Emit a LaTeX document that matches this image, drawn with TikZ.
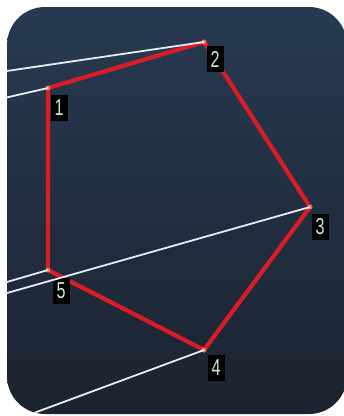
\documentclass[tikz,border=0pt]{standalone}
\usepackage{fontspec}
\usepackage{graphicx}
\newfontfamily\lblfont{Liberation Sans}
\definecolor{bgtop}{RGB}{39,58,82}
\definecolor{bgbot}{RGB}{28,35,47}
\definecolor{edgered}{RGB}{218,28,38}
\definecolor{wire}{RGB}{232,236,242}
\definecolor{lbltext}{RGB}{195,238,218}
\definecolor{dotcol}{RGB}{228,118,100}
\begin{document}
\begin{tikzpicture}[x=1pt,y=1pt,
  redline/.style={draw=edgered, line width=4.2pt, line cap=round},
  wline/.style={draw=wire, line width=1.8pt},
  lbl/.style={fill=black, text=lbltext, inner sep=0pt, minimum width=17pt, minimum height=26pt,
    font=\lblfont\fontsize{23}{23}\selectfont},
  vdot/.style={circle, fill=dotcol, inner sep=0pt, minimum size=5pt}]
\useasboundingbox (0,-416) rectangle (344,0);
\fill[white] (0,-416) rectangle (344,0);
\shade[top color=bgtop, bottom color=bgbot, rounded corners=38pt] (7,-414) rectangle (347,-7);

% vertices
\coordinate (v1) at (48,-88);
\coordinate (v2) at (204,-42);
\coordinate (v3) at (310,-207);
\coordinate (v4) at (204,-350);
\coordinate (v5) at (48,-270);

% free ends of the wires
\coordinate (w1) at (0,-99);
\coordinate (w2) at (0,-72);
\coordinate (w3) at (0,-295);
\coordinate (w4) at (15,-420);
\coordinate (w5) at (0,-284);

\begin{scope}
\clip[rounded corners=38pt] (7,-414) rectangle (347,-7);
\draw[redline] (v1) -- (v2) -- (v3) -- (v4) -- (v5) -- cycle;
\node[vdot] (d1) at (v1) {};
\node[vdot] (d2) at (v2) {};
\node[vdot] (d3) at (v3) {};
\node[vdot] (d4) at (v4) {};
\node[vdot] (d5) at (v5) {};
\node[lbl] (l1) at (59,-107.5) {\scalebox{0.7}[1]{1}};
\node[lbl] (l2) at (215,-59) {\scalebox{0.7}[1]{2}};
\node[lbl] (l3) at (320,-227) {\scalebox{0.7}[1]{3}};
\node[lbl] (l4) at (216,-368) {\scalebox{0.7}[1]{4}};
\node[lbl] (l5) at (61,-291) {\scalebox{0.7}[1]{5}};
\draw[wline] (w1) -- (v1);
\draw[wline] (w2) -- (v2);
\draw[wline] (w3) -- (v3);
\draw[wline] (w4) -- (v4);
\draw[wline] (w5) -- (v5);
\end{scope}
\end{tikzpicture}
\end{document}
